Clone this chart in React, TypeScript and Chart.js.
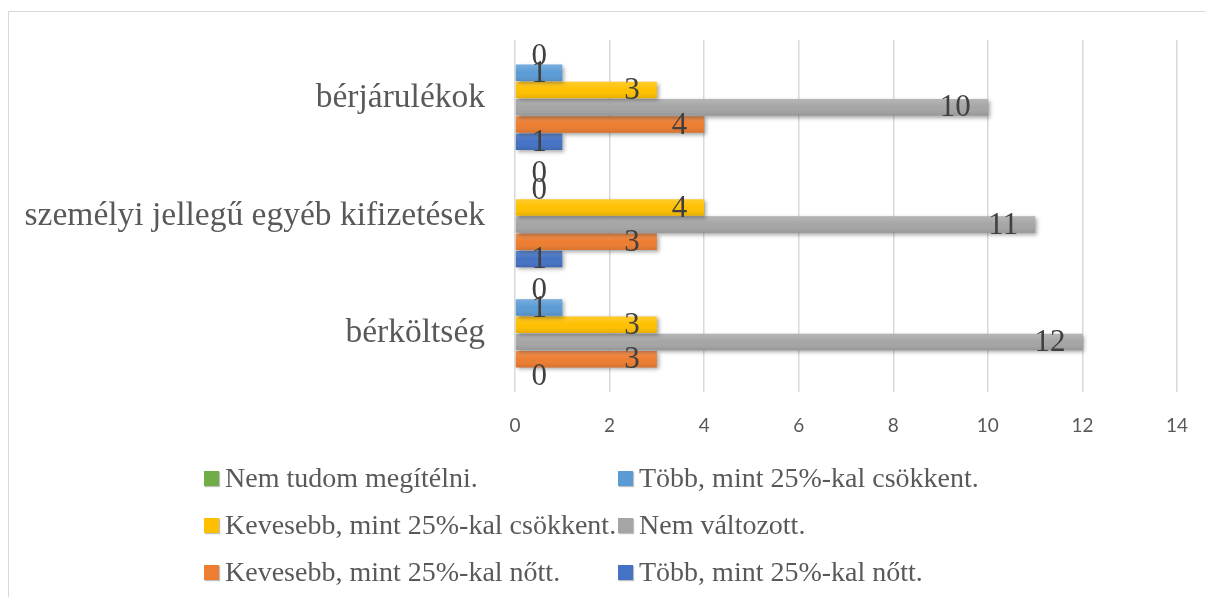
import React, { useEffect, useRef } from "react";
import { Chart, registerables } from "chart.js";

Chart.register(...registerables);

const categories = ["bérjárulékok", "személyi jellegű egyéb kifizetések", "bérköltség"];

const seriesNames = [
  "Nem tudom megítélni.",
  "Több, mint 25%-kal csökkent.",
  "Kevesebb, mint 25%-kal csökkent.",
  "Nem változott.",
  "Kevesebb, mint 25%-kal nőtt.",
  "Több, mint 25%-kal nőtt.",
];

const nemTudom = [0, 0, 0];
const tobbCsokkent = [1, 0, 1];
const kevesebbCsokkent = [3, 4, 3];
const nemValtozott = [10, 11, 12];
const kevesebbNott = [4, 3, 3];
const tobbNott = [1, 1, 0];

const seriesValues = [nemTudom, tobbCsokkent, kevesebbCsokkent, nemValtozott, kevesebbNott, tobbNott];
const seriesColors = ["#70AD47", "#5B9BD5", "#FFC000", "#A5A5A5", "#ED7D31", "#4472C4"];

const xMin = 0;
const xMax = 14;
const xStep = 2;

const CANVAS_W = 1205;
const CANVAS_H = 588;

const shadowPlugin = {
  id: "barShadow",
  beforeDatasetDraw(chart: any) {
    const ctx = chart.ctx;
    ctx.save();
    ctx.shadowColor = "rgba(0,0,0,0.35)";
    ctx.shadowBlur = 4;
    ctx.shadowOffsetX = 2;
    ctx.shadowOffsetY = 2;
  },
  afterDatasetDraw(chart: any, args: any) {
    const ctx = chart.ctx;
    ctx.restore();
    const meta = args.meta;
    ctx.save();
    meta.data.forEach((el: any) => {
      const p = el.getProps(["x", "y", "base", "height"], true);
      const left = Math.min(p.x, p.base);
      const w = Math.abs(p.x - p.base);
      if (w < 0.5) return;
      const top = p.y - p.height / 2;
      const g = ctx.createLinearGradient(0, top, 0, top + p.height);
      g.addColorStop(0, "rgba(255,255,255,0.18)");
      g.addColorStop(0.5, "rgba(255,255,255,0)");
      g.addColorStop(1, "rgba(0,0,0,0.10)");
      ctx.fillStyle = g;
      ctx.fillRect(left, top, w, p.height);
    });
    ctx.restore();
  },
};

const labelPlugin = {
  id: "valueLabels",
  afterDatasetsDraw(chart: any) {
    const ctx = chart.ctx;
    const area = chart.chartArea;
    ctx.save();
    ctx.font = '31px "Liberation Serif"';
    ctx.fillStyle = "#404040";
    ctx.textAlign = "right";
    ctx.textBaseline = "middle";
    chart.data.datasets.forEach((ds: any, di: number) => {
      const meta = chart.getDatasetMeta(di);
      meta.data.forEach((el: any, i: number) => {
        const p = el.getProps(["x", "y"], true);
        const x = Math.max(p.x - 17, area.left + 32);
        ctx.fillText(String(ds.data[i]), x, p.y + 1);
      });
    });
    ctx.restore();
  },
};

export default function App() {
  const canvasRef = useRef<HTMLCanvasElement | null>(null);

  useEffect(() => {
    document.body.style.overflow = "hidden";
    document.documentElement.style.overflow = "hidden";
    const canvas = canvasRef.current;
    if (!canvas) return;
    const chart = new Chart(canvas, {
      type: "bar",
      data: {
        labels: categories,
        datasets: seriesNames.map((name, i) => ({
          label: name,
          data: seriesValues[i],
          backgroundColor: seriesColors[i],
          borderWidth: 0,
          categoryPercentage: 0.88,
          barPercentage: 0.96,
        })),
      },
      options: {
        indexAxis: "y",
        animation: false,
        responsive: false,
        devicePixelRatio: 1,
        layout: { padding: { left: 0, right: 37, top: 28, bottom: 168 } },
        plugins: {
          legend: { display: false },
          tooltip: { enabled: false },
          title: { display: false },
        },
        scales: {
          x: {
            type: "linear",
            position: "bottom",
            min: xMin,
            max: xMax,
            ticks: {
              stepSize: xStep,
              color: "#595959",
              font: { family: "Lato", size: 19 },
              padding: 22,
            },
            grid: { color: "#d9d9d9", lineWidth: 1.5, drawTicks: false },
            border: { display: false },
            afterFit(scale: any) {
              scale.height = 40;
              scale.paddingLeft = 0;
              scale.paddingRight = 0;
            },
          },
          y: {
            type: "category",
            position: "left",
            ticks: {
              color: "#595959",
              font: { family: "Liberation Serif", size: 33.5 },
              padding: 30,
            },
            grid: { display: false, drawTicks: false },
            border: { display: false },
            afterFit(scale: any) {
              scale.width = 506;
              scale.paddingTop = 0;
              scale.paddingBottom = 0;
            },
          },
        },
      } as any,
      plugins: [shadowPlugin, labelPlugin],
    });
    return () => chart.destroy();
  }, []);

  const legendRows = [466, 513, 560];
  const legendCols = [195, 609];

  return (
    <div
      style={{
        position: "relative",
        top: 3,
        width: CANVAS_W,
        height: CANVAS_H,
        borderTop: "1px solid #d9d9d9",
        borderLeft: "1px solid #d9d9d9",
      }}
    >
      <canvas
        ref={canvasRef}
        width={CANVAS_W}
        height={CANVAS_H}
        style={{ position: "absolute", left: 0, top: 0, width: CANVAS_W, height: CANVAS_H }}
      />
      {seriesNames.map((name, i) => {
        const row = Math.floor(i / 2);
        const col = i % 2;
        return (
          <div
            key={name}
            style={{
              position: "absolute",
              left: legendCols[col],
              top: legendRows[row] - 18,
              height: 36,
              display: "flex",
              alignItems: "center",
              whiteSpace: "nowrap",
              fontFamily: '"Liberation Serif"',
              fontSize: 28,
              color: "#595959",
            }}
          >
            <span
              style={{
                display: "inline-block",
                width: 15,
                height: 15,
                background: seriesColors[i],
                marginRight: 6,
                boxShadow: "1px 1px 1px rgba(0,0,0,0.25)",
              }}
            />
            <span>{name}</span>
          </div>
        );
      })}
    </div>
  );
}
